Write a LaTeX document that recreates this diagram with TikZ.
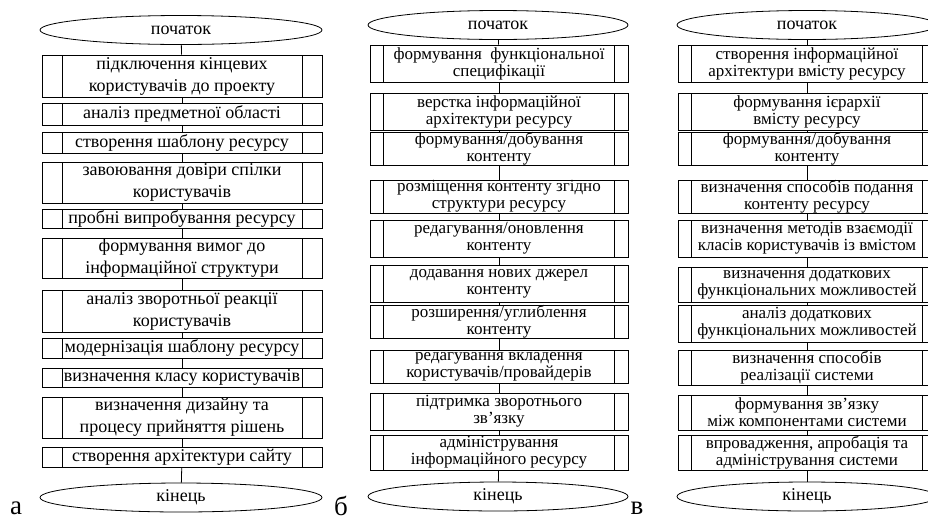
\documentclass[tikz,border=0pt]{standalone}
\usepackage{fontspec}
\setmainfont{Liberation Serif}
\usetikzlibrary{shapes.geometric}

\tikzset{
	pproc/.style 2 args={draw, rectangle, align=center, inner sep=0pt, minimum width=#1,
		path picture={\draw ([xshift=#2]path picture bounding box.north west) -- ([xshift=#2]path picture bounding box.south west)
			([xshift=-#2]path picture bounding box.north east) -- ([xshift=-#2]path picture bounding box.south east);}},
	procA/.style={pproc={280pt}{20pt}, font=\fontsize{18}{22}\selectfont},
	procB/.style={pproc={258pt}{13.5pt}, font=\fontsize{17}{17}\selectfont},
	term/.style={draw, ellipse, inner sep=0pt, minimum height=29pt, font=\fontsize{18}{18}\selectfont},
	sublabel/.style={font=\fontsize{27}{27}\selectfont}
}

\begin{document}
\begin{tikzpicture}[x=1pt,y=-1pt,line width=0.8pt]
		\useasboundingbox (0,0) rectangle (928,520);
		\clip (0,0) rectangle (928,520);
		\node[term, minimum width=282pt] (a0) at (181,30) {початок};
		\foreach \n/\yc/\h/\txt in {
			1/76/42/{підключення кінцевих\\користувачів до проекту},
			2/114/22/{аналіз предметної області},
			3/142.5/21/{створення шаблону ресурсу},
			4/182.5/41/{завоювання довіри спілки\\користувачів},
			5/219/19/{пробні випробування ресурсу},
			6/258/40/{формування вимог до\\інформаційної структури},
			7/311/42/{аналіз зворотньої реакції\\користувачів},
			8/348/20/{модернізація шаблону ресурсу},
			9/377.5/19/{визначення класу користувачів},
			10/417.5/41/{визначення дизайну та\\процесу прийняття рішень},
			11/457/20/{створення архітектури сайту}}
			\node[procA, minimum height=\h pt] (a\n) at (182,\yc) {\txt};
		\node[term, minimum width=282pt] (a12) at (181,497.5) {кінець};
		\foreach \i [evaluate=\i as \j using int(\i+1)] in {0,...,11}
			\draw (a\i) -- (a\j);

		\node[term, minimum width=260pt] (b0) at (498,25) {початок};
		\foreach \n/\yc/\h/\txt in {
			1/63.5/37/{формування~ функціональної\\специфікації},
			2/111.5/37/{верстка інформаційної\\архітектури ресурсу},
			3/149/31/{формування/добування\\контенту},
			4/196.5/33/{розміщення контенту згідно\\структури ресурсу},
			5/238.5/37/{редагування/оновлення\\контенту},
			6/283.5/37/{додавання нових джерел\\контенту},
			7/321.5/33/{розширення/углиблення\\контенту},
			8/366.5/33/{редагування вкладення\\користувачів/провайдерів},
			9/411.5/37/{підтримка зворотнього\\зв'язку},
			10/452.5/35/{адміністрування\\інформаційного ресурсу}}
			\node[procB, minimum height=\h pt] (b\n) at (499,\yc) {\txt};
		\node[term, minimum width=260pt] (b11) at (498,496.5) {кінець};
		\foreach \i [evaluate=\i as \j using int(\i+1)] in {0,...,10}
			\draw (b\i) -- (b\j);

		\node[term, minimum width=260pt] (c0) at (807,25) {початок};
		\foreach \n/\yc/\h/\txt in {
			1/63.5/37/{створення інформаційної\\архітектури вмісту ресурсу},
			2/111.5/37/{формування ієрархії\\вмісту ресурсу},
			3/149/31/{формування/добування\\контенту},
			4/196.5/33/{визначення способів подання\\контенту ресурсу},
			5/238.5/37/{визначення методів взаємодії\\класів користувачів із вмістом},
			6/284.5/35/{визначення додаткових\\функціональних можливостей},
			7/323.5/37/{аналіз додаткових\\функціональних можливостей},
			8/367.5/35/{визначення способів\\реалізації системи},
			9/412.5/35/{формування зв’язку\\між компонентами системи},
			10/452.5/35/{впровадження, апробація та\\адміністрування системи}}
			\node[procB, minimum height=\h pt] (c\n) at (807,\yc) {\txt};
		\node[term, minimum width=260pt] (c11) at (807,496.5) {кінець};
		\foreach \i [evaluate=\i as \j using int(\i+1)] in {0,...,10}
			\draw (c\i) -- (c\j);

		\node[sublabel] (la) at (16,508) {а};
		\node[sublabel] (lb) at (341,506) {б};
		\node[sublabel] (lc) at (637,508) {в};
	\end{tikzpicture}
\end{document}
